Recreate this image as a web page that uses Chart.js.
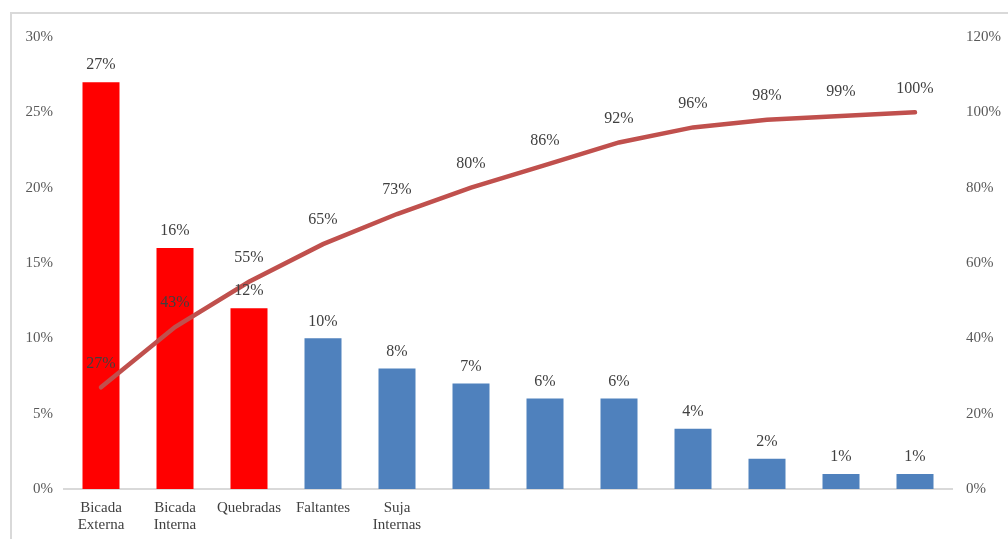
<!DOCTYPE html>
<html>
<head>
<meta charset="utf-8">
<script src="https://cdn.jsdelivr.net/npm/chart.js@4"></script>
<style>
    html, body { margin: 0; padding: 0; background: #fff; }
    #wrap { position: relative; width: 1008px; height: 539px; }
    #frame { position: absolute; left: 10px; top: 12px; width: 1000px; height: 540px; border: 2px solid #d9d9d9; box-sizing: border-box; }
    canvas { position: absolute; left: 0; top: 0; }
</style>
</head>
<body>
<div id="wrap">
    <div id="frame"></div>
    <canvas id="pareto" width="1008" height="539"></canvas>
</div>
<script>
// Datos del diagrama de Pareto
const categorias = [
    ['Bicada', 'Externa'], ['Bicada', 'Interna'], 'Quebradas', 'Faltantes', ['Suja', 'Internas'],
    '', '', '', '', '', '', ''
];
const porcentajes = [27, 16, 12, 10, 8, 7, 6, 6, 4, 2, 1, 1];
const acumulado = [27, 43, 55, 65, 73, 80, 86, 92, 96, 98, 99, 100];
const ticksIzq = [0, 5, 10, 15, 20, 25, 30];
const ticksDer = [0, 20, 40, 60, 80, 100, 120];

const principales = 3; // barras destacadas en rojo
const serif = '"Liberation Serif", "Times New Roman", serif';

// Etiquetas de datos encima de barras y puntos
const etiquetas = {
    id: 'etiquetas',
    afterDatasetsDraw(chart) {
        const ctx = chart.ctx;
        ctx.save();
        ctx.font = '16px ' + serif;
        ctx.fillStyle = '#404040';
        ctx.textAlign = 'center';
        ctx.textBaseline = 'middle';
        chart.data.datasets.forEach((ds, i) => {
            const meta = chart.getDatasetMeta(i);
            const off = ds.type === 'line' ? 24 : 17;
            meta.data.forEach((el, j) => {
                ctx.fillText(ds.data[j] + '%', el.x, el.y - off);
            });
        });
        ctx.restore();
    }
};

const ctx = document.getElementById('pareto').getContext('2d');
new Chart(ctx, {
    data: {
        labels: categorias,
        datasets: [{
            type: 'line',
            data: acumulado,
            yAxisID: 'y2',
            borderColor: '#C0504D',
            borderWidth: 4.5,
            borderCapStyle: 'round',
            pointRadius: 0,
            tension: 0,
            order: 0
        }, {
            type: 'bar',
            data: porcentajes,
            yAxisID: 'y',
            backgroundColor: c => c.dataIndex < principales ? '#FF0000' : '#4F81BD',
            barPercentage: 0.5,
            categoryPercentage: 1,
            order: 1
        }]
    },
    options: {
        responsive: false,
        animation: false,
        layout: { padding: { top: 37, left: 0, right: 0, bottom: 0 } },
        plugins: { legend: { display: false }, tooltip: { enabled: false } },
        scales: {
            x: {
                grid: { display: false },
                border: { display: true, color: '#d9d9d9', width: 2 },
                ticks: {
                    color: '#404040',
                    font: { family: serif, size: 15, lineHeight: 1.1 },
                    padding: 3,
                    maxRotation: 0,
                    autoSkip: false
                },
                afterFit: s => { s.height = 50; }
            },
            y: {
                position: 'left',
                min: 0, max: 30,
                afterBuildTicks: s => { s.ticks = ticksIzq.map(v => ({ value: v })); },
                grid: { display: false },
                border: { display: false },
                ticks: {
                    color: '#595959',
                    font: { family: serif, size: 15 },
                    padding: 3,
                    callback: v => v + '%'
                },
                afterFit: s => { s.width = 64; }
            },
            y2: {
                position: 'right',
                min: 0, max: 120,
                afterBuildTicks: s => { s.ticks = ticksDer.map(v => ({ value: v })); },
                grid: { display: false },
                border: { display: false },
                ticks: {
                    color: '#595959',
                    font: { family: serif, size: 15 },
                    padding: 6,
                    callback: v => v + '%'
                },
                afterFit: s => { s.width = 56; }
            }
        }
    },
    plugins: [etiquetas]
});
</script>
</body>
</html>
